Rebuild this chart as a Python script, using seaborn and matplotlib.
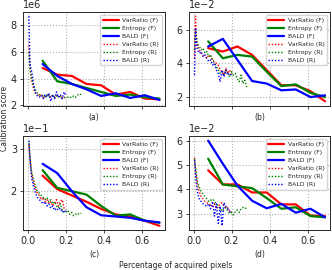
import matplotlib
matplotlib.use("Agg")
import matplotlib.pyplot as plt
import matplotlib.ticker as mticker
import seaborn as sns
import pandas as pd

sns.set_style("ticks")
plt.rcParams["font.family"] = ["DejaVu Sans"]

font_size = 6

Methods = ["VarRatio (F)", "Entropy (F)", "BALD (F)",
           "VarRatio (R)", "Entropy (R)", "BALD (R)"]
Panels = ["(a)", "(b)", "(c)", "(d)"]
my_palette = ["#ff0000", "#008000", "#0000ff", "#ff0000", "#008000", "#0000ff"]

# full-image acquisition (F)
x_f = [0.077, 0.154, 0.231, 0.308, 0.385, 0.462, 0.538, 0.615, 0.692]
# region acquisition (R)
x_r = [0.005, 0.01, 0.015, 0.02, 0.03, 0.04, 0.05, 0.06, 0.07, 0.08, 0.09,
       0.10, 0.11, 0.12, 0.13, 0.14, 0.15, 0.16, 0.17, 0.18, 0.19, 0.20]
x_r_ent = x_r + [0.21, 0.22, 0.23, 0.24, 0.25, 0.26, 0.27, 0.28]

# (a)  x 1e6
a_var_f = [4.8, 4.3, 4.2, 3.6, 3.5, 2.8, 3.0, 2.5, 2.45]
a_ent_f = [5.35, 3.8, 3.6, 3.3, 3.0, 2.7, 2.8, 2.6, 2.5]
a_bald_f = [5.1, 4.2, 3.6, 3.2, 2.7, 2.9, 2.55, 2.75, 2.4]
a_var_r = [6.5, 5.0, 4.2, 3.8, 3.2, 2.9, 2.8, 2.7, 2.75, 2.6, 2.7,
           2.65, 2.8, 2.6, 2.7, 2.55, 2.75, 2.6, 2.7, 2.55, 2.6, 2.5]
a_ent_r = [6.0, 4.8, 4.3, 4.0, 3.4, 3.1, 2.9, 2.8, 2.7, 2.75, 2.6,
           2.8, 2.7, 2.65, 2.75, 2.6, 2.7, 2.6, 2.65, 2.5, 2.6, 2.55,
           2.6, 2.65, 2.55, 2.7, 2.6, 2.75, 2.85, 2.8]
a_bald_r = [8.7, 5.2, 4.8, 4.5, 3.5, 2.9, 2.7, 2.6, 2.75, 2.5, 2.8,
            2.6, 2.9, 2.3, 2.8, 2.5, 3.0, 2.6, 2.8, 2.5, 3.0, 2.7]

# (b)  x 1e-2
b_var_f = [4.9, 4.7, 5.0, 4.5, 3.6, 2.7, 2.7, 2.35, 1.75]
b_ent_f = [5.3, 4.3, 4.5, 4.4, 3.5, 2.65, 2.75, 2.25, 2.0]
b_bald_f = [5.0, 5.45, 4.2, 2.95, 2.8, 2.4, 2.45, 2.0, 2.1]
b_var_r = [4.3, 6.8, 5.5, 5.0, 4.8, 4.6, 4.5, 4.4, 4.3, 4.5, 4.4,
           4.2, 4.1, 4.0, 3.9, 3.6, 3.5, 3.3, 3.7, 3.4, 3.6, 3.4]
b_ent_r = [4.8, 6.0, 5.6, 5.2, 5.0, 4.8, 4.9, 4.6, 4.7, 4.4, 4.5,
           4.2, 4.0, 3.8, 3.6, 3.4, 3.5, 3.3, 3.6, 3.4, 3.2, 3.5,
           3.3, 3.4, 3.1, 2.9, 3.3, 2.8, 3.0, 2.6]
b_bald_r = [3.3, 6.1, 5.2, 4.8, 4.6, 4.7, 4.4, 4.5, 4.3, 4.1, 4.2,
            3.9, 4.0, 3.6, 3.4, 2.9, 3.6, 3.2, 3.6, 3.3, 3.4, 3.3]

# (c)  x 1e-1
c_var_f = [2.37, 2.05, 1.9, 1.75, 1.58, 1.45, 1.4, 1.3, 1.18]
c_ent_f = [2.5, 2.08, 2.0, 1.92, 1.65, 1.42, 1.45, 1.3, 1.25]
c_bald_f = [2.65, 2.43, 2.0, 1.62, 1.43, 1.4, 1.37, 1.3, 1.26]
c_var_r = [3.1, 2.8, 2.6, 2.4, 2.2, 2.05, 1.95, 1.9, 1.8, 1.85, 1.75,
           1.8, 1.7, 1.75, 1.65, 1.7, 1.8, 1.65, 1.75, 1.8, 1.6, 1.55]
c_ent_r = [3.15, 2.85, 2.6, 2.45, 2.25, 2.1, 2.0, 1.95, 1.9, 1.85, 1.8,
           1.85, 1.75, 1.8, 1.7, 1.75, 1.65, 1.6, 1.7, 1.55, 1.5, 1.5,
           1.55, 1.45, 1.5, 1.42, 1.45, 1.48, 1.45, 1.48]
c_bald_r = [3.2, 2.8, 2.5, 2.3, 2.1, 1.95, 1.85, 1.8, 1.75, 1.7, 1.75,
            1.65, 1.7, 1.6, 1.65, 1.55, 1.6, 1.55, 1.6, 1.5, 1.55, 1.5]

# (d)  x 1e-2
d_var_f = [4.78, 4.2, 4.2, 3.87, 3.87, 3.38, 3.38, 2.92, 2.9]
d_ent_f = [5.26, 4.2, 4.12, 4.05, 3.64, 3.2, 3.26, 2.9, 2.85]
d_bald_f = [6.0, 5.05, 4.15, 3.53, 3.22, 3.4, 3.04, 3.2, 2.85]
d_var_r = [5.3, 4.8, 4.5, 4.2, 3.9, 3.7, 3.6, 3.5, 3.45, 3.4, 3.35,
           3.3, 3.4, 3.2, 3.3, 3.4, 3.45, 3.3, 3.2, 3.25, 3.1, 3.05]
d_ent_r = [5.25, 4.9, 4.6, 4.3, 4.1, 3.9, 3.8, 3.7, 3.6, 3.5, 3.55,
           3.6, 3.5, 3.4, 3.3, 3.2, 3.1, 3.2, 3.25, 3.1, 3.0, 3.05,
           2.95, 3.1, 3.15, 3.05, 3.2, 3.25, 3.2, 3.25]
d_bald_r = [5.2, 4.6, 4.2, 3.9, 3.6, 3.5, 3.4, 3.35, 3.3, 3.4, 3.2,
            3.5, 2.9, 3.4, 2.6, 3.3, 2.5, 3.45, 3.3, 3.2, 3.1, 3.05]

scales = [1e6, 1e-2, 1e-1, 1e-2]
steps = [2, 2, 1, 1]
panel_data = [
    [a_var_f, a_ent_f, a_bald_f, a_var_r, a_ent_r, a_bald_r],
    [b_var_f, b_ent_f, b_bald_f, b_var_r, b_ent_r, b_bald_r],
    [c_var_f, c_ent_f, c_bald_f, c_var_r, c_ent_r, c_bald_r],
    [d_var_f, d_ent_f, d_bald_f, d_var_r, d_ent_r, d_bald_r],
]
x_lists = [x_f, x_f, x_f, x_r, x_r_ent, x_r]

dashes = {m: ("" if "(F)" in m else (1, 1.3)) for m in Methods}
sizes = {m: (1.6 if "(F)" in m else 1.0) for m in Methods}

fig, ax_arr = plt.subplots(2, 2, figsize=(3.32, 2.7), dpi=100)
fig.subplots_adjust(left=0.07, right=0.995, bottom=0.148, top=0.956,
                    wspace=0.17, hspace=0.33)

for k, ax in enumerate(ax_arr.flat):
    rows = []
    for m, xs, ys in zip(Methods, x_lists, panel_data[k]):
        for x, y in zip(xs, ys):
            rows.append({"x": x, "y": y * scales[k], "Method": m})
    df = pd.DataFrame(rows)
    f = sns.lineplot(
        data=df, x="x", y="y", hue="Method", hue_order=Methods,
        style="Method", style_order=Methods, dashes=dashes,
        size="Method", size_order=Methods, sizes=sizes,
        palette=my_palette, estimator=None, sort=False, ax=ax,
    )
    f.grid(True, ls=":", color="#b0b0b0", lw=0.8)
    f.yaxis.set_major_locator(mticker.MultipleLocator(steps[k] * scales[k]))
    f.ticklabel_format(axis="y", style="sci", scilimits=(0, 0))
    f.yaxis.get_offset_text().set_fontsize(font_size + 1)
    f.tick_params(labelsize=font_size + 1, length=2.5, width=0.6, pad=2)
    f.set_xticks([0.0, 0.2, 0.4, 0.6])
    f.set_xlim(-0.025, 0.72)
    f.set_ylabel("")
    if k < 2:
        f.tick_params(axis="x", labelbottom=False)
    f.set_xlabel(Panels[k], fontsize=font_size - 0.5, labelpad=3)
    for s in f.spines.values():
        s.set_linewidth(0.7)
    f.legend(loc="upper right", fontsize=4.4, handlelength=2.6,
             labelspacing=0.45, borderpad=0.4, handletextpad=0.6,
             framealpha=0.8)

fig.text(0.015, 0.56, "Calibration score", rotation=90, va="center",
         ha="center", fontsize=font_size - 0.5)
fig.text(0.53, 0.018, "Percentage of acquired pixels", ha="center",
         va="center", fontsize=font_size - 0.5)

fig.savefig("out.png", dpi=100)
